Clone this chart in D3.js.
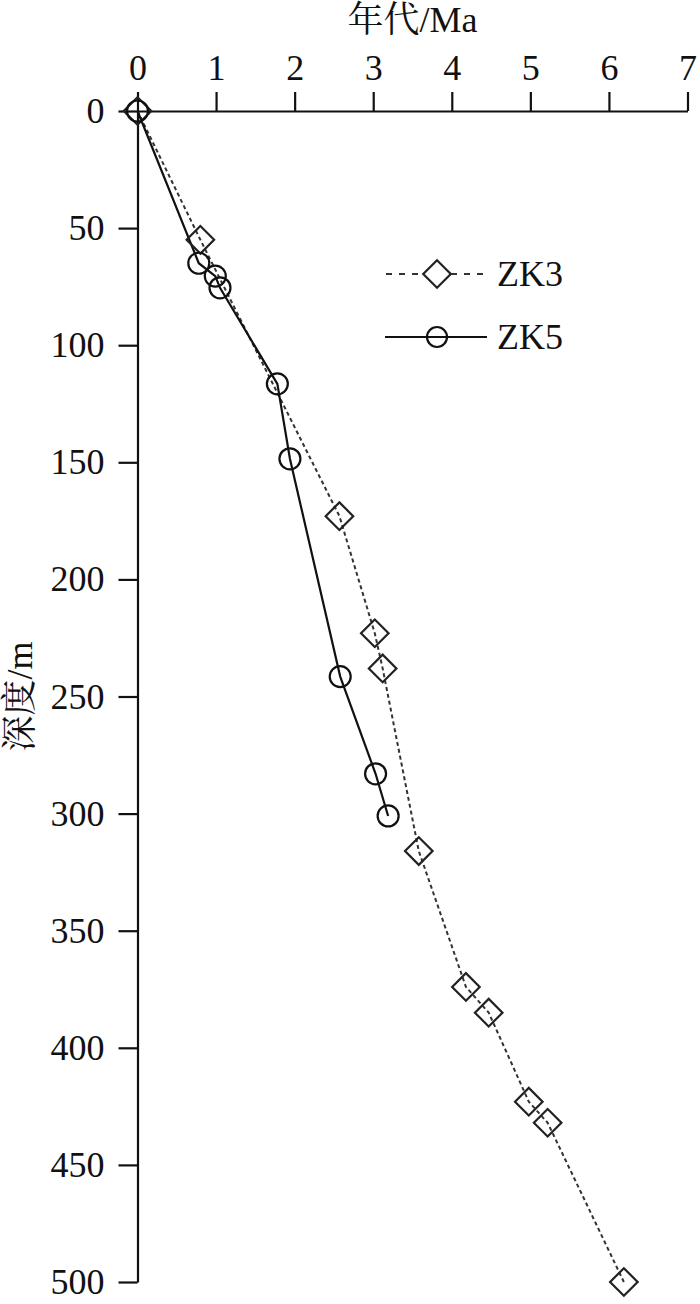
<!DOCTYPE html>
<html>
<head>
<meta charset="utf-8">
<script src="https://cdn.jsdelivr.net/npm/d3@7"></script>
<style>
body { margin: 0; background: #fff; }
text { font-family: "Liberation Serif", "Noto Serif CJK SC", "Noto Sans CJK SC", serif; }
</style>
</head>
<body>
<div id="viz"></div>
<script>
// age (Ma) vs depth (m)
var zk3Age   = [0, 0.80, 2.57, 3.02, 3.12, 3.58, 4.18, 4.47, 4.98, 5.22, 6.19];
var zk3Depth = [0, 55, 173, 223, 238, 316, 374, 385, 423, 432, 500];
var zk5Age   = [0, 0.78, 0.99, 1.05, 1.78, 1.94, 2.58, 3.03, 3.19];
var zk5Depth = [0, 65, 70.5, 75.5, 116.5, 148.5, 241.5, 283, 301];
var xTicks = [0, 1, 2, 3, 4, 5, 6, 7];
var yTicks = [0, 50, 100, 150, 200, 250, 300, 350, 400, 450, 500];

var W = 700, H = 1304;
var m = {left: 137.5, top: 111, right: 12.5, bottom: 22};

var svg = d3.select("#viz").append("svg")
    .attr("width", W)
    .attr("height", H);

var x = d3.scaleLinear().domain([0, 7]).range([m.left, W - m.right]);
var y = d3.scaleLinear().domain([0, 500]).range([m.top, H - m.bottom]);

function styleAxis(g) {
    g.selectAll("path, line").attr("stroke", "#111").attr("stroke-width", 2.2);
    g.selectAll("text").attr("fill", "#111").style("font-size", "36px")
        .style("font-family", "'Liberation Serif', serif");
}

svg.append("g")
    .attr("transform", "translate(0," + m.top + ")")
    .call(d3.axisTop(x).tickValues(xTicks).tickFormat(d3.format("d"))
        .tickSize(19).tickSizeOuter(0).tickPadding(12))
    .call(styleAxis);

svg.append("g")
    .attr("transform", "translate(" + m.left + ",0)")
    .call(d3.axisLeft(y).tickValues(yTicks).tickFormat(d3.format("d"))
        .tickSize(19).tickSizeOuter(0).tickPadding(14))
    .call(styleAxis);

// axis titles
svg.append("text")
    .attr("x", (m.left + W - m.right) / 2)
    .attr("y", 32)
    .attr("text-anchor", "middle")
    .style("font-size", "36px")
    .attr("fill", "#111")
    .text("年代/Ma");

svg.append("text")
    .attr("transform", "translate(32," + (m.top + H - m.bottom) / 2 + ") rotate(-90)")
    .attr("text-anchor", "middle")
    .style("font-size", "36px")
    .attr("fill", "#111")
    .text("深度/m");

var zk3 = zk3Age.map(function(a, i) { return [a, zk3Depth[i]]; });
var zk5 = zk5Age.map(function(a, i) { return [a, zk5Depth[i]]; });

var line = d3.line()
    .x(function(d) { return x(d[0]); })
    .y(function(d) { return y(d[1]); });

svg.append("path")
    .datum(zk3)
    .attr("d", line)
    .attr("fill", "none")
    .attr("stroke", "#333")
    .attr("stroke-width", 2)
    .attr("stroke-dasharray", "4,3");

svg.append("path")
    .datum(zk5)
    .attr("d", line)
    .attr("fill", "none")
    .attr("stroke", "#111")
    .attr("stroke-width", 2.2);

var diamond = d3.symbol().type(d3.symbolSquare).size(19.5 * 19.5);

svg.selectAll(".zk3")
    .data(zk3)
    .enter().append("path")
    .attr("class", "zk3")
    .attr("d", diamond)
    .attr("transform", function(d) { return "translate(" + x(d[0]) + "," + y(d[1]) + ") rotate(45)"; })
    .attr("fill", "none")
    .attr("stroke", "#222")
    .attr("stroke-width", 2.2);

svg.selectAll(".zk5")
    .data(zk5)
    .enter().append("circle")
    .attr("class", "zk5")
    .attr("cx", function(d) { return x(d[0]); })
    .attr("cy", function(d) { return y(d[1]); })
    .attr("r", 10.5)
    .attr("fill", "none")
    .attr("stroke", "#111")
    .attr("stroke-width", 2.2);

// legend
var lg = svg.append("g");
lg.append("line")
    .attr("x1", 386).attr("x2", 488).attr("y1", 274).attr("y2", 274)
    .attr("stroke", "#333").attr("stroke-width", 1.8).attr("stroke-dasharray", "6,7");
lg.append("path")
    .attr("d", diamond)
    .attr("transform", "translate(437,274) rotate(45)")
    .attr("fill", "#fff").attr("stroke", "#222").attr("stroke-width", 2.2);
lg.append("text")
    .attr("x", 497).attr("y", 286)
    .style("font-size", "36px").attr("fill", "#111")
    .text("ZK3");

lg.append("line")
    .attr("x1", 385).attr("x2", 487).attr("y1", 337).attr("y2", 337)
    .attr("stroke", "#111").attr("stroke-width", 2.2);
lg.append("circle")
    .attr("cx", 437).attr("cy", 337).attr("r", 10)
    .attr("fill", "none").attr("stroke", "#111").attr("stroke-width", 2.2);
lg.append("text")
    .attr("x", 497).attr("y", 349)
    .style("font-size", "36px").attr("fill", "#111")
    .text("ZK5");
</script>
</body>
</html>
